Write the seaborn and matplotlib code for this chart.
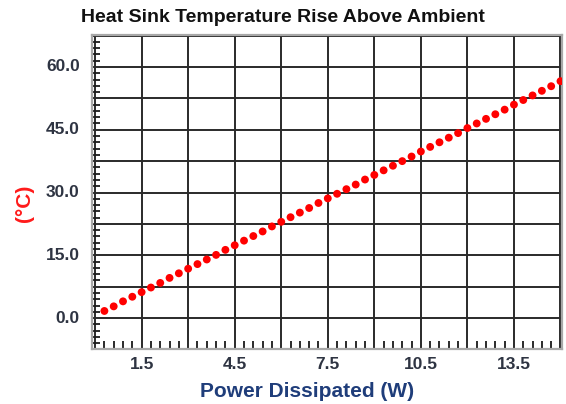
import numpy as np
import pandas as pd
import seaborn as sns
import matplotlib.pyplot as plt
from matplotlib.ticker import MultipleLocator

# power dissipated (W) and temperature rise (deg C)
power = [0.3, 0.6, 0.9, 1.2, 1.5, 1.8, 2.1, 2.4, 2.7, 3.0,
         3.3, 3.6, 3.9, 4.2, 4.5, 4.8, 5.1, 5.4, 5.7, 6.0,
         6.3, 6.6, 6.9, 7.2, 7.5, 7.8, 8.1, 8.4, 8.7, 9.0,
         9.3, 9.6, 9.9, 10.2, 10.5, 10.8, 11.1, 11.4, 11.7, 12.0,
         12.3, 12.6, 12.9, 13.2, 13.5, 13.8, 14.1, 14.4, 14.7, 15.0]
temp_rise = [1.7, 2.8, 4.0, 5.1, 6.2, 7.3, 8.4, 9.6, 10.7, 11.8,
             12.9, 14.0, 15.1, 16.3, 17.4, 18.5, 19.6, 20.7, 21.9, 23.0,
             24.1, 25.2, 26.3, 27.5, 28.6, 29.7, 30.8, 31.9, 33.1, 34.2,
             35.3, 36.4, 37.5, 38.6, 39.8, 40.9, 42.0, 43.1, 44.2, 45.4,
             46.5, 47.6, 48.7, 49.8, 51.0, 52.1, 53.2, 54.3, 55.4, 56.6]
xtick_labels = [1.5, 4.5, 7.5, 10.5, 13.5]
ytick_labels = [0.0, 15.0, 30.0, 45.0, 60.0]

df = pd.DataFrame({'power': power, 'temp': temp_rise})

sns.set_style('white')
plt.rcParams['font.family'] = ['Liberation Sans', 'DejaVu Sans']

fig = plt.figure(figsize=(5.66, 4.04), dpi=100)
ax = fig.add_axes([0.1625, 0.136, 0.8305, 0.777])

sns.scatterplot(data=df, x='power', y='temp', ax=ax, color='#ff0000',
                s=32, edgecolor='none', zorder=5, legend=False)

ax.set_xlim(-0.1, 15.05)
ax.set_ylim(-7.4, 67.6)

# gridlines every 1.5 W / 7.5 C, labels every other one
ax.xaxis.set_major_locator(MultipleLocator(1.5))
ax.yaxis.set_major_locator(MultipleLocator(7.5))
ax.xaxis.set_minor_locator(MultipleLocator(0.3))
ax.yaxis.set_minor_locator(MultipleLocator(1.5))
ax.grid(True, which='major', color='#2a2a2a', linewidth=1.4)
ax.set_axisbelow(True)

lab_color = '#2e3442'
ax.set_xticklabels([])
ax.set_yticklabels([])
ax.tick_params(which='major', length=0)
ax.tick_params(which='minor', direction='in', length=6, width=1.3,
               color='#1a1a1a', left=True, bottom=True)
for v in xtick_labels:
    ax.text(v, -0.025, f'{v:.1f}', transform=ax.get_xaxis_transform(),
            ha='center', va='top', fontsize=12.5, fontweight='bold', color=lab_color)
for v in ytick_labels:
    ax.text(-0.026, v, f'{v:.1f}', transform=ax.get_yaxis_transform(),
            ha='right', va='center', fontsize=12.5, fontweight='bold', color=lab_color)

for s in ax.spines.values():
    s.set_color('#a8a8a8')
    s.set_linewidth(1.6)

ax.set_xlabel('')
ax.set_ylabel('')

fig.text(0.5, 0.957, 'Heat Sink Temperature Rise Above Ambient',
         ha='center', va='center', fontsize=14, fontweight='bold', color='#111111')
fig.text(0.543, 0.030, 'Power Dissipated (W)', ha='center', va='center',
         fontsize=15, fontweight='bold', color='#1f3d7a')
fig.text(0.044, 0.497, '(°C)', ha='center', va='center', rotation=90,
         fontsize=15, fontweight='bold', color='#ff1a1a')

fig.savefig('out.png', dpi=100)
